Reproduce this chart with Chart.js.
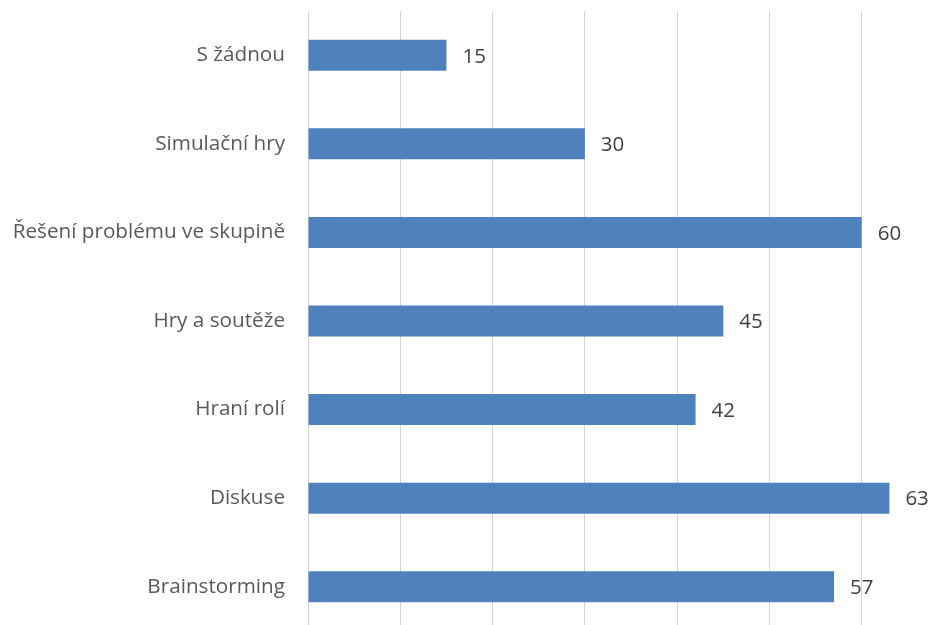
<!DOCTYPE html>
<html>
<head>
<meta charset="utf-8">
<script src="https://cdn.jsdelivr.net/npm/chart.js@4"></script>
<style>
  html, body { margin: 0; padding: 0; background: #fff; overflow: hidden; }
  canvas { display: block; }
</style>
</head>
<body>
<canvas id="methodsChart" width="960" height="640"></canvas>
<script>
// Aktivizující metody ve výuce
const categories = ['S žádnou', 'Simulační hry', 'Řešení problému ve skupině', 'Hry a soutěže', 'Hraní rolí', 'Diskuse', 'Brainstorming'];
const counts = [15, 30, 60, 45, 42, 63, 57];
const axisTicks = [0, 10, 20, 30, 40, 50, 60, 70];

const FONT = '"Open Sans", sans-serif';

// popisky hodnot za koncem sloupců
const valueLabels = {
  id: 'valueLabels',
  afterDatasetsDraw(chart) {
    const ctx = chart.ctx;
    const meta = chart.getDatasetMeta(0);
    ctx.save();
    ctx.font = '20.5px ' + FONT;
    ctx.fillStyle = '#404040';
    ctx.textAlign = 'left';
    ctx.textBaseline = 'middle';
    meta.data.forEach((bar, i) => {
      ctx.fillText(String(counts[i]), bar.x + 16, bar.y + 1.5);
    });
    ctx.restore();
  }
};

const ctx = document.getElementById('methodsChart').getContext('2d');
new Chart(ctx, {
  type: 'bar',
  data: {
    labels: categories,
    datasets: [{
      data: counts,
      backgroundColor: '#4F81BD',
      borderWidth: 0,
      barPercentage: 0.35,
      categoryPercentage: 1
    }]
  },
  options: {
    indexAxis: 'y',
    responsive: false,
    animation: false,
    layout: { padding: { top: 11, right: 6, bottom: 9, left: 0 } },
    plugins: {
      legend: { display: false },
      tooltip: { enabled: false }
    },
    scales: {
      x: {
        min: axisTicks[0],
        max: axisTicks[axisTicks.length - 1],
        afterBuildTicks: axis => { axis.ticks = axisTicks.map(v => ({ value: v })); },
        afterFit: axis => {
          axis.height = 0;
          axis.paddingLeft = 0;
          axis.paddingRight = 0;
        },
        ticks: { display: false },
        grid: { color: '#d4d4d4', lineWidth: 1, drawTicks: false },
        border: { display: false }
      },
      y: {
        afterFit: axis => {
          axis.width = 308;
          axis.paddingTop = 0;
          axis.paddingBottom = 0;
        },
        ticks: {
          color: '#595959',
          padding: 23,
          font: { family: FONT, size: 20.7 }
        },
        grid: { display: false, drawTicks: false },
        border: { display: false }
      }
    }
  },
  plugins: [valueLabels]
});
</script>
</body>
</html>
